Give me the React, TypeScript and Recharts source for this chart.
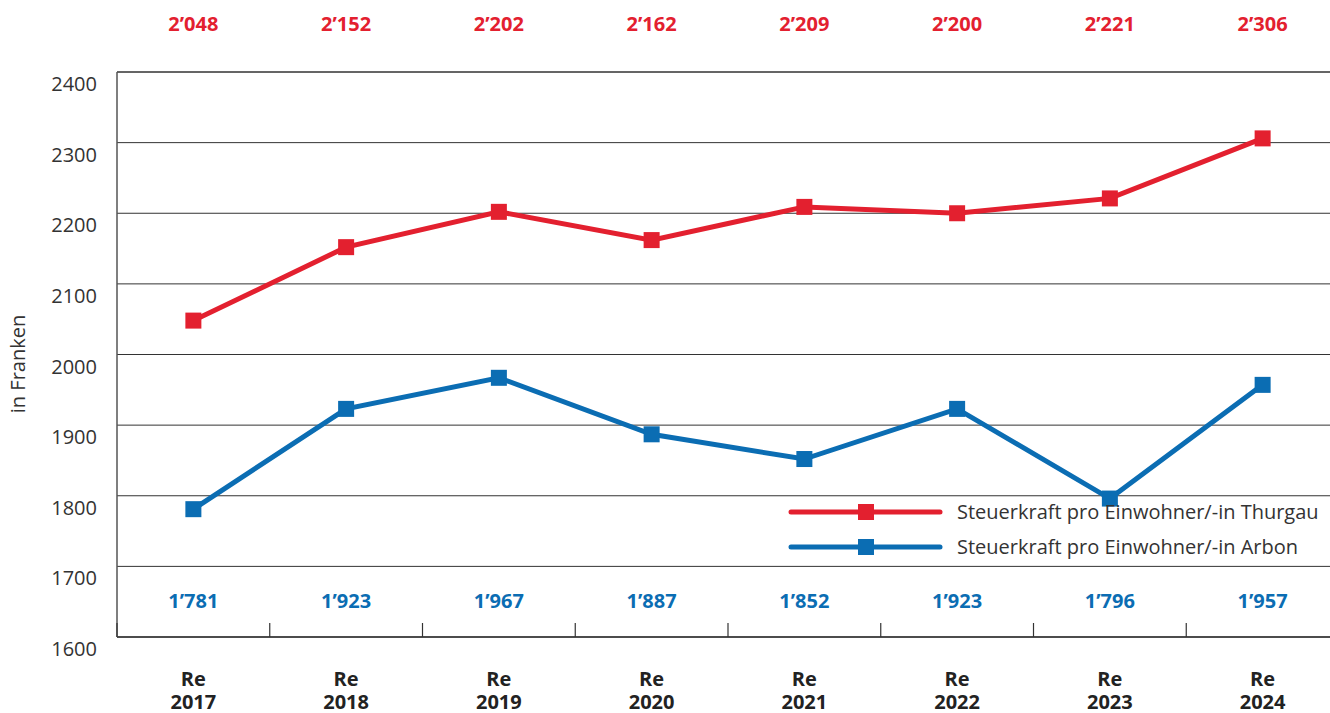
import React from 'react';
import { LineChart, Line, XAxis, YAxis, CartesianGrid, Legend } from 'recharts';

const years = ['2017', '2018', '2019', '2020', '2021', '2022', '2023', '2024'];
const thurgau = [2048, 2152, 2202, 2162, 2209, 2200, 2221, 2306];
const arbon = [1781, 1923, 1967, 1887, 1852, 1923, 1796, 1957];
const yTicks = [1600, 1700, 1800, 1900, 2000, 2100, 2200, 2300, 2400];
const seriesNames = ['Steuerkraft pro Einwohner/-in Thurgau', 'Steuerkraft pro Einwohner/-in Arbon'];

const RED = '#e3202f';
const BLUE = '#0b6db3';
const FONT = '"Open Sans", "Noto Sans", sans-serif';

const CHART_W = 1339;
const CHART_H = 713;
const Y_W = 117;
const BAND = (CHART_W - Y_W) / years.length;

const data = years.map((y, i) => ({ year: y, thurgau: thurgau[i], arbon: arbon[i] }));

const fmt = (v: number) => {
  const s = String(v);
  return s.length > 3 ? s.slice(0, s.length - 3) + '\u2019' + s.slice(s.length - 3) : s;
};

const SquareDot = (props: any) => {
  const { cx, cy, stroke } = props;
  if (cx == null || cy == null) return null;
  return <rect x={cx - 8} y={cy - 8} width={16} height={16} fill={stroke} />;
};

const YTick = (props: any) => {
  const { x, y, payload } = props;
  return (
    <text x={x} y={y + 12} dy="0.355em" textAnchor="end" fontSize={20} fill="#333" fontFamily={FONT}>
      {payload.value}
    </text>
  );
};

const BottomTick = (props: any) => {
  const { x, y, payload, index } = props;
  const i = payload.index ?? index;
  return (
    <g>
      <text x={x} y={y - 36} dy="0.355em" textAnchor="middle" fontSize={20} fontWeight="bold" fill={BLUE} fontFamily={FONT}>
        {fmt(arbon[i])}
      </text>
      <text x={x} y={y + 49} textAnchor="middle" fontSize={20} fontWeight="bold" fill="#222" fontFamily={FONT}>
        <tspan x={x}>Re</tspan>
        <tspan x={x} dy={23}>{payload.value}</tspan>
      </text>
      {i === 0 && <line x1={x - BAND / 2} x2={x - BAND / 2} y1={y - 14} y2={y} stroke="#333" strokeWidth={1.2} />}
      <line x1={x + BAND / 2} x2={x + BAND / 2} y1={y - 14} y2={y} stroke="#333" strokeWidth={1.2} />
    </g>
  );
};

const TopTick = (props: any) => {
  const { x, y, payload, index } = props;
  const i = payload.index ?? index;
  return (
    <text x={x} y={y - 48} dy="0.355em" textAnchor="middle" fontSize={20} fontWeight="bold" fill={RED} fontFamily={FONT}>
      {fmt(thurgau[i])}
    </text>
  );
};

const renderLegend = (props: any) => {
  const payload = [...(props.payload || [])].sort(
    (a: any, b: any) => seriesNames.indexOf(a.value) - seriesNames.indexOf(b.value)
  );
  return (
    <svg width={550} height={80} style={{ display: 'block' }}>
      {payload.map((p: any, i: number) => {
        const cy = 17 + i * 35;
        return (
          <g key={i}>
            <line x1={11} x2={160} y1={cy} y2={cy} stroke={p.color} strokeWidth={5} strokeLinecap="round" />
            <rect x={78} y={cy - 8} width={16} height={16} fill={p.color} />
            <text x={177} y={cy} dy="0.355em" fontSize={20} fill="#333" fontFamily={FONT}>
              {p.value}
            </text>
          </g>
        );
      })}
    </svg>
  );
};

export default function App() {
  return (
    <div style={{ position: 'absolute', left: 0, top: 0, width: 1330, height: 713, overflow: 'hidden', background: '#fff' }}>
      <LineChart width={CHART_W} height={CHART_H} data={data} margin={{ top: 0, right: 0, bottom: 0, left: 0 }}>
        <CartesianGrid vertical={false} stroke="#333" strokeWidth={1} />
        <XAxis
          xAxisId="bottom"
          dataKey="year"
          scale="band"
          height={76}
          axisLine={{ stroke: '#333', strokeWidth: 1.5 }}
          tickLine={false}
          tickSize={0}
          tickMargin={0}
          interval={0}
          tick={<BottomTick />}
        />
        <XAxis
          xAxisId="top"
          dataKey="year"
          orientation="top"
          scale="band"
          height={72}
          axisLine={{ stroke: '#333', strokeWidth: 1 }}
          tickLine={false}
          tickSize={0}
          tickMargin={0}
          interval={0}
          tick={<TopTick />}
        />
        <YAxis
          width={Y_W}
          domain={[1600, 2400]}
          ticks={yTicks}
          interval={0}
          axisLine={{ stroke: '#555', strokeWidth: 1.5 }}
          tickLine={false}
          tickSize={0}
          tickMargin={20}
          tick={<YTick />}
          label={{
            content: () => (
              <text x={18} y={364} transform="rotate(-90 18 364)" textAnchor="middle" dy="0.355em" fontSize={20} fill="#333" fontFamily={FONT}>
                in Franken
              </text>
            ),
          }}
        />
        <Legend
          content={renderLegend}
          verticalAlign="middle"
          align="center"
          layout="horizontal"
          wrapperStyle={{ position: 'absolute', left: 780, top: 495, width: 550, height: 80 }}
        />
        <Line
          xAxisId="bottom"
          type="linear"
          dataKey="thurgau"
          name={seriesNames[0]}
          stroke={RED}
          strokeWidth={5}
          dot={<SquareDot />}
          activeDot={false}
          isAnimationActive={false}
        />
        <Line
          xAxisId="bottom"
          type="linear"
          dataKey="arbon"
          name={seriesNames[1]}
          stroke={BLUE}
          strokeWidth={5}
          dot={<SquareDot />}
          activeDot={false}
          isAnimationActive={false}
        />
      </LineChart>
    </div>
  );
}
